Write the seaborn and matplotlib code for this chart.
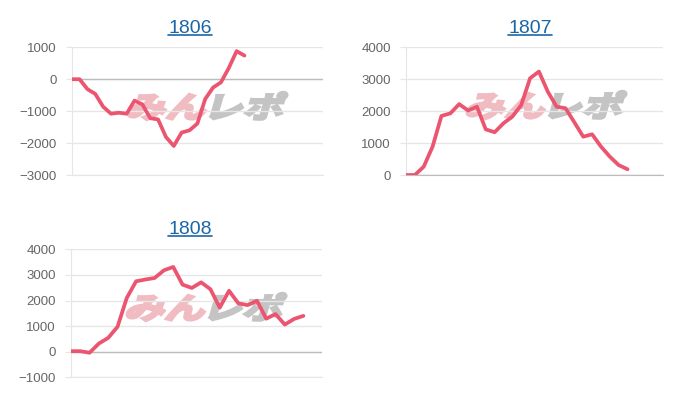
import numpy as np
import pandas as pd
import matplotlib
matplotlib.use("Agg")
import matplotlib.pyplot as plt
import seaborn as sns
from matplotlib.textpath import TextPath
from matplotlib.patches import PathPatch
from matplotlib.font_manager import FontProperties
from matplotlib.transforms import Affine2D
from matplotlib.lines import Line2D

# machine numbers and their payout difference per time slot
titles = ["1806", "1807", "1808"]
diff_1806 = [0, 0, -310, -460, -860, -1080, -1050, -1080, -670, -790, -1220, -1260,
             -1810, -2090, -1670, -1600, -1390, -620, -260, -100, 350, 880, 740]
diff_1807 = [0, 0, 260, 890, 1850, 1930, 2220, 2020, 2140, 1430, 1340, 1620, 1830,
             2190, 3030, 3240, 2610, 2140, 2090, 1650, 1200, 1275, 890, 575, 310, 180]
diff_1808 = [20, 20, -40, 320, 540, 970, 2100, 2750, 2820, 2880, 3180, 3310, 2620,
             2490, 2710, 2440, 1720, 2380, 1890, 1820, 1990, 1290, 1470, 1060, 1280, 1400]
n_slots = [33, 30, 28]
y_ranges = [(-3000, 1000), (0, 4000), (-1000, 4000)]

LINE = "#ec5570"
GRID = "#e6e6e6"
ZERO = "#bdbdbd"
TICK = "#666666"
LINK = "#1d66a6"
W, H = 700, 400

sns.set_style("white")
plt.rcParams["font.family"] = ["Liberation Sans", "DejaVu Sans"]

fig = plt.figure(figsize=(W / 100, H / 100), dpi=100)

# axes boxes in pixels (left, top, right, bottom), title centre x / baseline y
boxes = [(71.7, 47.3, 323, 175), (406, 47.3, 663, 175), (71, 249.3, 322, 377.3)]
title_pos = [(190, 32.7), (530, 32.7), (190, 234)]
mark_pos = [(207, 106), (546, 105), (206, 307)]

px = Affine2D().scale(1 / W, 1 / H) + fig.transFigure


def watermark(cx, cy):
    """Draw the slanted logo text centred at (cx, cy), pixels from top-left."""
    fp = FontProperties(family="Noto Sans CJK JP", weight="bold")
    p1 = TextPath((0, 0), "みん", size=31, prop=fp)
    off = p1.get_extents().x1 - 1
    p2 = TextPath((off, 0), "レポ", size=31, prop=fp)
    e1, e2 = p1.get_extents(), p2.get_extents()
    x0, x1 = e1.x0, e2.x1
    y0, y1 = min(e1.y0, e2.y0), max(e1.y1, e2.y1)
    base = (Affine2D().translate(-(x0 + x1) / 2, -(y0 + y1) / 2)
            .scale(1.3, 0.95).skew_deg(16, 0).translate(cx, H - cy))
    for p, c in [(p1, "#f0bcc2"), (p2, "#c4c4c4")]:
        fig.add_artist(PathPatch(p, transform=base + px, facecolor=c,
                                 edgecolor=c, linewidth=2.0, zorder=-1))


series = [diff_1806, diff_1807, diff_1808]
for i, vals in enumerate(series):
    l, t, r, b = boxes[i]
    ax = fig.add_axes([l / W, 1 - b / H, (r - l) / W, (b - t) / H])
    ax.patch.set_alpha(0)
    df = pd.DataFrame({"slot": np.arange(len(vals)), "diff": vals})
    sns.lineplot(data=df, x="slot", y="diff", ax=ax, color=LINE, linewidth=2.7,
                 zorder=3)
    lo, hi = y_ranges[i]
    ax.set_xlim(0, n_slots[i] - 1)
    ax.set_ylim(lo, hi)
    ax.set_yticks(np.arange(lo, hi + 1, 1000))
    ax.set_xticks([])
    ax.set_xlabel("")
    ax.set_ylabel("")
    ax.grid(axis="y", color=GRID, linewidth=1)
    ax.axhline(0, color=ZERO, linewidth=1, zorder=2)
    for s in ["top", "right"]:
        ax.spines[s].set_visible(False)
    ax.spines["left"].set_color(GRID)
    ax.spines["bottom"].set_color(ZERO if lo == 0 else GRID)
    ax.tick_params(axis="y", length=4, color=GRID, pad=7, labelsize=9.5,
                   labelcolor=TICK, left=True)

    watermark(*mark_pos[i])

    tx, ty = title_pos[i]
    fig.text(tx / W, 1 - ty / H, titles[i], ha="center", va="baseline",
             fontsize=14, color=LINK)

# underline the titles like links
fig.canvas.draw()
renderer = fig.canvas.get_renderer()
for txt in fig.texts:
    bb = txt.get_window_extent(renderer)
    x_a, x_b = bb.x0 / W, bb.x1 / W
    y_line = (txt.get_position()[1] * H - 2.2) / H
    fig.add_artist(Line2D([x_a, x_b], [y_line, y_line], transform=fig.transFigure,
                          color=LINK, linewidth=1.2))

fig.savefig("out.png", dpi=100)
